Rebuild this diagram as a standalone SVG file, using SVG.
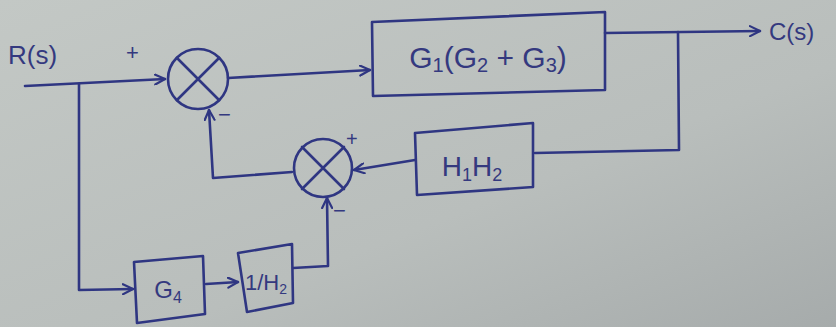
<svg xmlns="http://www.w3.org/2000/svg" width="836" height="327" viewBox="0 0 836 327">
<defs>
<linearGradient id="bg" x1="0" y1="0" x2="1" y2="1">
<stop offset="0" stop-color="#c3c8c5"/>
<stop offset="0.6" stop-color="#b9bebc"/>
<stop offset="1" stop-color="#a6abab"/>
</linearGradient>
<marker id="arr" viewBox="0 0 12 12" refX="11" refY="6" markerWidth="12" markerHeight="12" markerUnits="userSpaceOnUse" orient="auto">
<path d="M1,1 L11,6 L1,11" fill="none" stroke="#2f3682" stroke-width="2.2" stroke-linecap="round"/>
</marker>
<style>
.ink{fill:none;stroke:#2f3682;stroke-width:2.6;stroke-linecap:round;stroke-linejoin:round}
.t{fill:#34397f;font-family:"Liberation Sans",Arial,sans-serif}
</style>
</defs>
<rect width="836" height="327" fill="url(#bg)"/>

<g id="connectors" class="ink">
<path d="M25,86 L165,79" marker-end="url(#arr)"/>
<path d="M79,84 L79,290 L133,289" marker-end="url(#arr)"/>
<path d="M228,78 L370,70" marker-end="url(#arr)"/>
<path d="M605,33 L760,31" marker-end="url(#arr)"/>
<path d="M678,32 L679,150 L535,153"/>
<path d="M415,160 L354,170" marker-end="url(#arr)"/>
<path d="M292,172 L213,178 L209,110" marker-end="url(#arr)"/>
<path d="M206,284 L238,282" marker-end="url(#arr)"/>
<path d="M293,268 L328,266 L327,198" marker-end="url(#arr)"/>
</g>

<g id="sum1" class="ink">
<circle cx="198" cy="79" r="30"/>
<path d="M177,58 L219,100 M219,58 L177,100"/>
</g>
<g id="sum2" class="ink">
<circle cx="323" cy="168" r="29"/>
<path d="M302,147 L344,189 M344,147 L302,189"/>
</g>

<g id="block-g">
<path class="ink" d="M372,22 L605,12 L605,90 L373,96 Z"/>
<text class="t" x="488" y="68" font-size="30" text-anchor="middle">G<tspan font-size="20" dy="4">1</tspan><tspan dy="-4">(G</tspan><tspan font-size="20" dy="4">2</tspan><tspan dy="-4"> + G</tspan><tspan font-size="20" dy="4">3</tspan><tspan dy="-4">)</tspan></text>
</g>

<g id="block-h">
<path class="ink" d="M415,133 L533,123 L533,187 L417,195 Z"/>
<text class="t" x="472" y="176" font-size="28" text-anchor="middle">H<tspan font-size="18" dy="5">1</tspan><tspan dy="-5">H</tspan><tspan font-size="18" dy="5">2</tspan></text>
</g>

<g id="block-g4">
<path class="ink" d="M134,262 L203,256 L205,314 L137,323 Z"/>
<text class="t" x="168" y="298" font-size="24" text-anchor="middle">G<tspan font-size="16" dy="5">4</tspan></text>
</g>

<g id="block-invh2">
<path class="ink" d="M238,253 L292,244 L293,303 L247,312 Z"/>
<text class="t" x="266" y="290" font-size="22" text-anchor="middle">1/H<tspan font-size="14" dy="4">2</tspan></text>
</g>

<g id="labels">
<text class="t" x="8" y="64" font-size="26">R(s)</text>
<text class="t" x="769" y="40" font-size="24">C(s)</text>
<text class="t" x="126" y="60" font-size="22">+</text>
<text class="t" x="218" y="122" font-size="22">−</text>
<text class="t" x="346" y="146" font-size="20">+</text>
<text class="t" x="333" y="218" font-size="22">−</text>
</g>
</svg>
